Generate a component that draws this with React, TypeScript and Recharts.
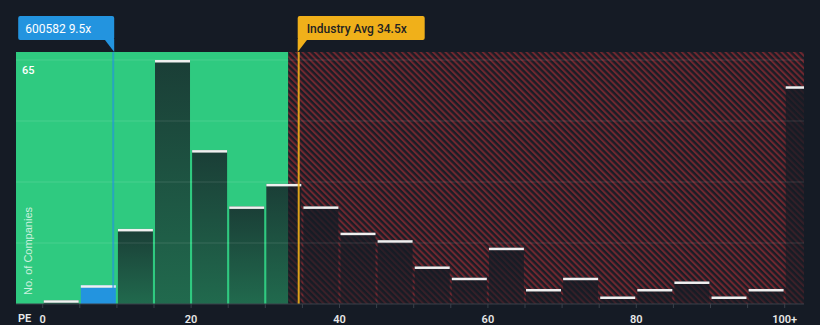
import { ComposedChart, Bar, XAxis, YAxis, ReferenceArea, ReferenceLine, Cell } from "recharts";

// PE histogram: bins of 5x, last bin is 100+
const binStarts = [0, 5, 10, 15, 20, 25, 30, 35, 40, 45, 50, 55, 60, 65, 70, 75, 80, 85, 90, 95, 100];
const companyCounts = [1, 5, 20, 65, 41, 26, 32, 26, 19, 17, 10, 7, 15, 4, 7, 2, 4, 6, 2, 4, 58];
const tickValues = [0, 5, 10, 15, 20, 25, 30, 35, 40, 45, 50, 55, 60, 65, 70, 75, 80, 85, 90, 95, 100];
const tickLabels: Record<number, string> = { 0: "0", 20: "20", 40: "40", 60: "60", 80: "80", 100: "100+" };
const gridValues = [16.25, 32.5, 48.75, 65];

const companyName = "600582";
const companyPE = 9.5;
const industryAvg = 34.5;
const fairEnd = 33.1;
const binWidth = 5;

const X_MIN = -3.6;
const X_MAX = 102.6;

const chartData = binStarts.map((start, i) => ({ mid: start + binWidth / 2, count: companyCounts[i] }));
const companyBin = binStarts.findIndex((s) => companyPE >= s && companyPE < s + binWidth);

const BarShape = (props: any) => {
  const { x, y, width, height, fill } = props;
  if (!height || height <= 0) return null;
  return (
    <g>
      <rect x={x} y={y} width={width} height={height} fill={fill} />
      <rect x={x} y={y} width={width} height={2.5} fill="#f0f0f0" />
    </g>
  );
};

const CompanyTag = ({ viewBox }: any) => {
  const x = viewBox.x;
  return (
    <g>
      <rect x={x - 95} y={16} width={96} height={24} rx={2} fill="#2394df" />
      <path d={`M${x - 9},39 L${x + 1},39 L${x + 1},52 Z`} fill="#2394df" />
      <text x={x - 88} y={32.5} fill="#ffffff" fontSize={12} fontFamily="Roboto, sans-serif">
        {`${companyName} ${companyPE}x`}
      </text>
    </g>
  );
};

const IndustryTag = ({ viewBox }: any) => {
  const x = viewBox.x;
  return (
    <g>
      <rect x={x - 1} y={16} width={127} height={24} rx={2} fill="#f0b01a" />
      <path d={`M${x - 1},39 L${x + 9},39 L${x - 1},52 Z`} fill="#f0b01a" />
      <text x={x + 8} y={32.5} fill="#222222" fontSize={12} fontWeight={500} fontFamily="Roboto, sans-serif">
        {`Industry Avg ${industryAvg}x`}
      </text>
    </g>
  );
};

const App = () => {
  return (
    <div style={{ position: "absolute", left: 0, top: 0, width: 820, height: 325, background: "#151b25" }}>
      <ComposedChart width={820} height={325} data={chartData} margin={{ top: 52, right: 16, bottom: 0, left: 16 }}>
        <defs>
          <linearGradient id="barFill" x1="0" y1="0" x2="0" y2="1">
            <stop offset="0%" stopColor="#151b24" stopOpacity={0.8} />
            <stop offset="100%" stopColor="#151b24" stopOpacity={0.55} />
          </linearGradient>
          <pattern id="hatch" patternUnits="userSpaceOnUse" width={4.4} height={4.4} patternTransform="rotate(-45)">
            <rect width={4.4} height={4.4} fill="#1b1d26" />
            <rect width={2} height={4.4} fill="#70272f" />
          </pattern>
        </defs>
        <XAxis
          dataKey="mid"
          type="number"
          domain={[X_MIN, X_MAX]}
          allowDataOverflow
          ticks={tickValues}
          tickFormatter={(v: number) => tickLabels[v] ?? ""}
          height={21}
          tickSize={4}
          tickMargin={7}
          stroke="#3a404a"
          tick={{ fill: "#e8e8e8", fontSize: 11, fontWeight: 600, fontFamily: "Roboto, sans-serif" }}
          interval={0}
        />
        <YAxis hide domain={[0, 67.13]} allowDataOverflow />
        <ReferenceArea x1={X_MIN} x2={fairEnd} y1={0} y2={67.13} fill="#2fca80" fillOpacity={1} stroke="none" />
        <ReferenceArea x1={fairEnd} x2={X_MAX} y1={0} y2={67.13} fill="url(#hatch)" fillOpacity={1} stroke="none" />
        {gridValues.map((g) => (
          <ReferenceLine key={g} y={g} stroke="#ffffff" strokeOpacity={0.12} strokeWidth={1}
            label={g === 65 ? { value: "65", position: "insideTopLeft", offset: 6, fill: "#ffffff", fontSize: 11, fontWeight: 500, fontFamily: "Roboto, sans-serif" } : undefined} />
        ))}
        <ReferenceLine x={companyPE} stroke="#2394df" strokeOpacity={0.65} strokeWidth={2} label={<CompanyTag />} />
        <ReferenceLine x={industryAvg} stroke="#f0b01a" strokeOpacity={0.9} strokeWidth={2} label={<IndustryTag />} />
        <Bar dataKey="count" barSize={35} isAnimationActive={false} shape={<BarShape />}>
          {chartData.map((_, i) => (
            <Cell key={i} fill={i === companyBin ? "#2394df" : "url(#barFill)"} />
          ))}
        </Bar>
      </ComposedChart>
      <div style={{ position: "absolute", left: 18, top: 312, fontSize: 11, fontWeight: 600, color: "#e8e8e8", fontFamily: "Roboto, sans-serif" }}>PE</div>
      <div style={{ position: "absolute", left: 28, top: 251, transform: "translate(-50%, -50%) rotate(-90deg)", whiteSpace: "nowrap", fontSize: 11, color: "rgba(255,255,255,0.75)", fontFamily: "'Liberation Sans', Arial, sans-serif" }}>No. of Companies</div>
    </div>
  );
};

export default App;
